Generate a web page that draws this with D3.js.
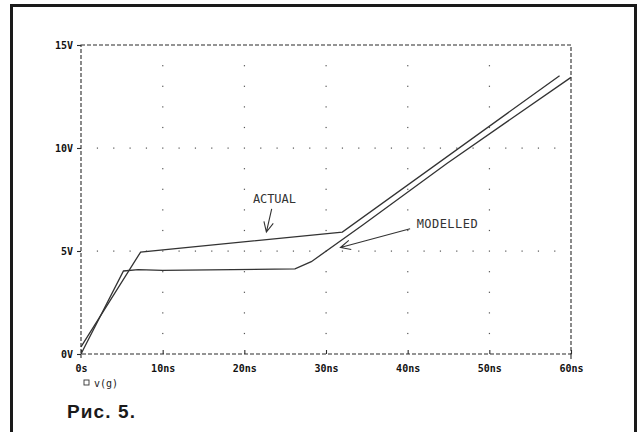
<!DOCTYPE html>
<html>
<head>
<meta charset="utf-8">
<script src="https://cdnjs.cloudflare.com/ajax/libs/d3/7.8.5/d3.min.js"></script>
<style>
  html, body { margin: 0; padding: 0; background: #fff; }
  svg { display: block; }
</style>
</head>
<body>
<script>
// data (time in ns, voltage in V)
var actualT  = [0, 7.3, 32, 58.6];
var actualV  = [0.35, 4.95, 5.92, 13.51];
var modelT   = [0, 5.2, 7, 10, 26.2, 28.2, 34.5, 44.8, 60];
var modelV   = [0, 4.03, 4.1, 4.06, 4.13, 4.48, 6.26, 9.25, 13.43];

var xTicks = [0, 10, 20, 30, 40, 50, 60];
var xTickLabels = ["0s", "10ns", "20ns", "30ns", "40ns", "50ns", "60ns"];
var yTicks = [0, 5, 10, 15];
var yTickLabels = ["0V", "5V", "10V", "15V"];

var noteText = ["ACTUAL", "MODELLED"];
var noteAt   = [[21.05, 7.52], [41.1, 6.31]];
var arrowFrom = [[23.35, 7.04], [40.3, 6.08]];
var arrowTo   = [[22.7, 5.92], [31.77, 5.17]];

var W = 642, H = 432;
var svg = d3.select("body").append("svg").attr("width", W).attr("height", H);

var ink = "#2b2b2b";
var mono = "'DejaVu Sans Mono', 'Liberation Mono', monospace";

// outer frame (open at the bottom)
svg.append("path")
   .attr("d", "M11.5,432 V5.5 H635.5 V432")
   .attr("fill", "none")
   .attr("stroke", "#1a1a1a")
   .attr("stroke-width", 3);

var x = d3.scaleLinear().domain([0, 60]).range([81, 571]);
var y = d3.scaleLinear().domain([0, 15]).range([354, 45]);

// dotted grid
var g = svg.append("g").attr("fill", "#555");
[10, 20, 30, 40, 50].forEach(function(t) {
	d3.range(1, 15).forEach(function(v) {
		g.append("rect").attr("x", x(t) - 0.5).attr("y", y(v) - 0.5)
		 .attr("width", 1.2).attr("height", 1.2);
	});
});
[5, 10].forEach(function(v) {
	d3.range(2, 60, 2).forEach(function(t) {
		if (t % 10 == 0) return;
		g.append("rect").attr("x", x(t) - 0.5).attr("y", y(v) - 0.5)
		 .attr("width", 1.2).attr("height", 1.2);
	});
});

// dashed plot box
svg.append("rect")
   .attr("x", x(0)).attr("y", y(15))
   .attr("width", x(60) - x(0)).attr("height", y(0) - y(15))
   .attr("fill", "none")
   .attr("stroke", ink)
   .attr("stroke-width", 1.1)
   .attr("stroke-dasharray", "4,2");

// axes via d3 (only ticks + labels, domain hidden)
var xAxis = d3.axisBottom(x).tickValues(xTicks)
	.tickFormat(function(d, i) { return xTickLabels[i]; })
	.tickSize(-4).tickPadding(10);
var yAxis = d3.axisLeft(y).tickValues(yTicks)
	.tickFormat(function(d, i) { return yTickLabels[i]; })
	.tickSize(4).tickPadding(4);

var gx = svg.append("g").attr("transform", "translate(0," + y(0) + ")").call(xAxis);
var gy = svg.append("g").attr("transform", "translate(" + x(0) + ",0)").call(yAxis);
[gx, gy].forEach(function(a) {
	a.select(".domain").remove();
	a.selectAll("line").attr("stroke", ink).attr("stroke-width", 1.1);
	a.selectAll("text")
	 .attr("fill", "#111")
	 .style("font-family", mono)
	 .style("font-weight", "bold")
	 .style("font-size", "10px");
});
gx.selectAll("text").attr("dy", "0.71em").attr("y", 11);
// origin cross + right corner stub
svg.append("line").attr("x1", x(0)).attr("x2", x(0)).attr("y1", y(0)).attr("y2", y(0) + 4)
   .attr("stroke", ink).attr("stroke-width", 1.1);
svg.append("line").attr("x1", x(60)).attr("x2", x(60)).attr("y1", y(0)).attr("y2", y(0) + 5)
   .attr("stroke", ink).attr("stroke-width", 1.1);

// traces
var line = d3.line().x(function(d) { return x(d[0]); }).y(function(d) { return y(d[1]); });
function pairs(ts, vs) { return ts.map(function(t, i) { return [t, vs[i]]; }); }

svg.append("path").datum(pairs(actualT, actualV))
   .attr("d", line).attr("fill", "none").attr("stroke", "#333").attr("stroke-width", 1.3);
svg.append("path").datum(pairs(modelT, modelV))
   .attr("d", line).attr("fill", "none").attr("stroke", "#333").attr("stroke-width", 1.3);

// annotations with hand drawn arrows
noteText.forEach(function(txt, i) {
	svg.append("text")
	   .attr("x", x(noteAt[i][0])).attr("y", y(noteAt[i][1]))
	   .attr("dy", "0.35em")
	   .attr("fill", "#333")
	   .style("font-family", mono)
	   .style("font-size", "12px")
	   .attr("textLength", i == 0 ? 43 : 61)
	   .text(txt);

	var x1 = x(arrowFrom[i][0]), y1 = y(arrowFrom[i][1]);
	var x2 = x(arrowTo[i][0]), y2 = y(arrowTo[i][1]);
	var a = Math.atan2(y1 - y2, x1 - x2);
	var L = 11, s = 0.45;
	var d = "M" + x1 + "," + y1 + "L" + x2 + "," + y2 +
		"M" + (x2 + L * Math.cos(a - s)) + "," + (y2 + L * Math.sin(a - s)) +
		"L" + x2 + "," + y2 +
		"L" + (x2 + L * Math.cos(a + s)) + "," + (y2 + L * Math.sin(a + s));
	svg.append("path").attr("d", d).attr("fill", "none")
	   .attr("stroke", "#333").attr("stroke-width", 1.1);
});

// legend marker + trace name
svg.append("rect").attr("x", 84).attr("y", 380).attr("width", 5).attr("height", 5)
   .attr("fill", "none").attr("stroke", "#333").attr("stroke-width", 0.9);
svg.append("text").attr("x", 94).attr("y", 387)
   .attr("fill", "#222")
   .style("font-family", mono)
   .style("font-size", "10px")
   .text("v(g)");

// caption
svg.append("text").attr("x", 67).attr("y", 418)
   .attr("fill", "#1a1a1a")
   .style("font-family", "'Liberation Sans', Arial, sans-serif")
   .style("font-weight", "bold")
   .style("font-size", "19px")
   .style("letter-spacing", "1.1px")
   .text("Рис. 5.");
</script>
</body>
</html>
